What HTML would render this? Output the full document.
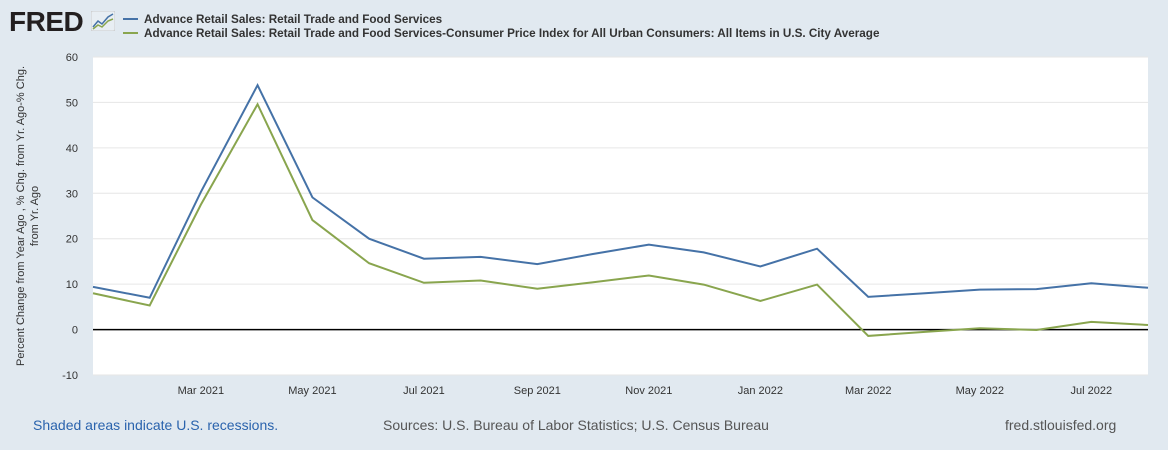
<!DOCTYPE html>
<html><head><meta charset="utf-8"><style>
body{margin:0;width:1168px;height:450px;background:#e1e9f0;font-family:"Liberation Sans",sans-serif;overflow:hidden;position:relative}
.t{position:absolute;white-space:nowrap}
</style></head><body>
<div class="t" style="left:9px;top:6px;font-size:28px;font-weight:bold;color:#231f20;letter-spacing:-0.5px">FRED</div>
<svg style="position:absolute;left:91px;top:11px" width="24" height="20"><rect width="24" height="20" rx="2" fill="#e8eef3" stroke="#ccc"/><polyline points="2,16 7,10 11,13 17,6 22,3" fill="none" stroke="#4572a7" stroke-width="1.5"/><polyline points="2,18 7,14 11,16 17,10 22,8" fill="none" stroke="#89a54e" stroke-width="1.5"/></svg>
<svg style="position:absolute;left:120px;top:10px" width="900" height="32">
<line x1="3" y1="9" x2="18" y2="9" stroke="#4572a7" stroke-width="2"/>
<line x1="3" y1="23" x2="18" y2="23" stroke="#89a54e" stroke-width="2"/>
<text x="24" y="13" font-size="11.7" font-weight="bold" fill="#333">Advance Retail Sales: Retail Trade and Food Services</text>
<text x="24" y="27" font-size="11.7" font-weight="bold" fill="#333">Advance Retail Sales: Retail Trade and Food Services-Consumer Price Index for All Urban Consumers: All Items in U.S. City Average</text>
</svg>
<svg id="chart" style="position:absolute;left:0;top:0" width="1168" height="450"></svg>
<div class="t" style="left:33px;top:417px;font-size:14px;color:#2a63ad">Shaded areas indicate U.S. recessions.</div>
<div class="t" style="left:383px;top:417px;font-size:14px;color:#555">Sources: U.S. Bureau of Labor Statistics; U.S. Census Bureau</div>
<div class="t" style="left:1005px;top:417px;font-size:14px;color:#555">fred.stlouisfed.org</div>
<script>
const dates=["2021-01-01","2021-02-01","2021-03-01","2021-04-01","2021-05-01","2021-06-01","2021-07-01","2021-08-01","2021-09-01","2021-10-01","2021-11-01","2021-12-01","2022-01-01","2022-02-01","2022-03-01","2022-04-01","2022-05-01","2022-06-01","2022-07-01","2022-08-01"];
const nominal=[9.4,7.0,30.3,53.8,29.1,20.0,15.6,16.0,14.4,16.6,18.7,17.0,13.9,17.8,7.2,8.0,8.8,8.9,10.2,9.2];
const real=[8.0,5.3,27.5,49.6,24.1,14.6,10.3,10.8,9.0,10.4,11.9,9.9,6.3,9.9,-1.4,-0.5,0.3,-0.1,1.7,1.0];
const yTicks=[-10,0,10,20,30,40,50,60];
const xTicks=["2021-03-01","2021-05-01","2021-07-01","2021-09-01","2021-11-01","2022-01-01","2022-03-01","2022-05-01","2022-07-01"];
const xTickLabels=["Mar 2021","May 2021","Jul 2021","Sep 2021","Nov 2021","Jan 2022","Mar 2022","May 2022","Jul 2022"];
const L=93,R=1148,T=57,B=375,ns="http://www.w3.org/2000/svg",svg=document.getElementById('chart');
const t0=Date.parse(dates[0]),t1=Date.parse(dates[dates.length-1]);
const x=d=>L+(Date.parse(d)-t0)/(t1-t0)*(R-L);
const y=v=>B-(v+10)/70*(B-T);
function mk(tag,a){const e=document.createElementNS(ns,tag);for(const k in a)e.setAttribute(k,a[k]);svg.appendChild(e);return e;}
let bg=mk('rect',{x:L,y:T,width:R-L,height:B-T,fill:'#fff'});


yTicks.forEach(v=>{
 let g=mk('line',{x1:L,x2:R,y1:y(v),y2:y(v),stroke:v===0?'#000':'#e6e6e6','stroke-width':v===0?1.5:1});
 
 
 let tx=mk('text',{x:78,y:y(v)+4,'text-anchor':'end','font-size':11,fill:'#333'});tx.textContent=v;
 
 
});
xTicks.forEach((d,i)=>{
 let tx=mk('text',{x:x(d),y:394,'text-anchor':'middle','font-size':11,fill:'#333'});tx.textContent=xTickLabels[i];
 
 
});
let yt=mk('text',{transform:'rotate(-90)','font-size':11,fill:'#333','text-anchor':'middle'});


yt.innerHTML='<tspan x="-216" y="24">Percent Change from Year Ago , % Chg. from Yr. Ago-% Chg.</tspan><tspan x="-216" y="38">from Yr. Ago</tspan>';
[[nominal,'#4572a7','line-nominal'],[real,'#89a54e','line-real']].forEach(([s,c,n])=>{
 let p=mk('polyline',{points:s.map((v,i)=>x(dates[i])+','+y(v)).join(' '),fill:'none',stroke:c,'stroke-width':2});
 
 
});
</script>
</body></html>
